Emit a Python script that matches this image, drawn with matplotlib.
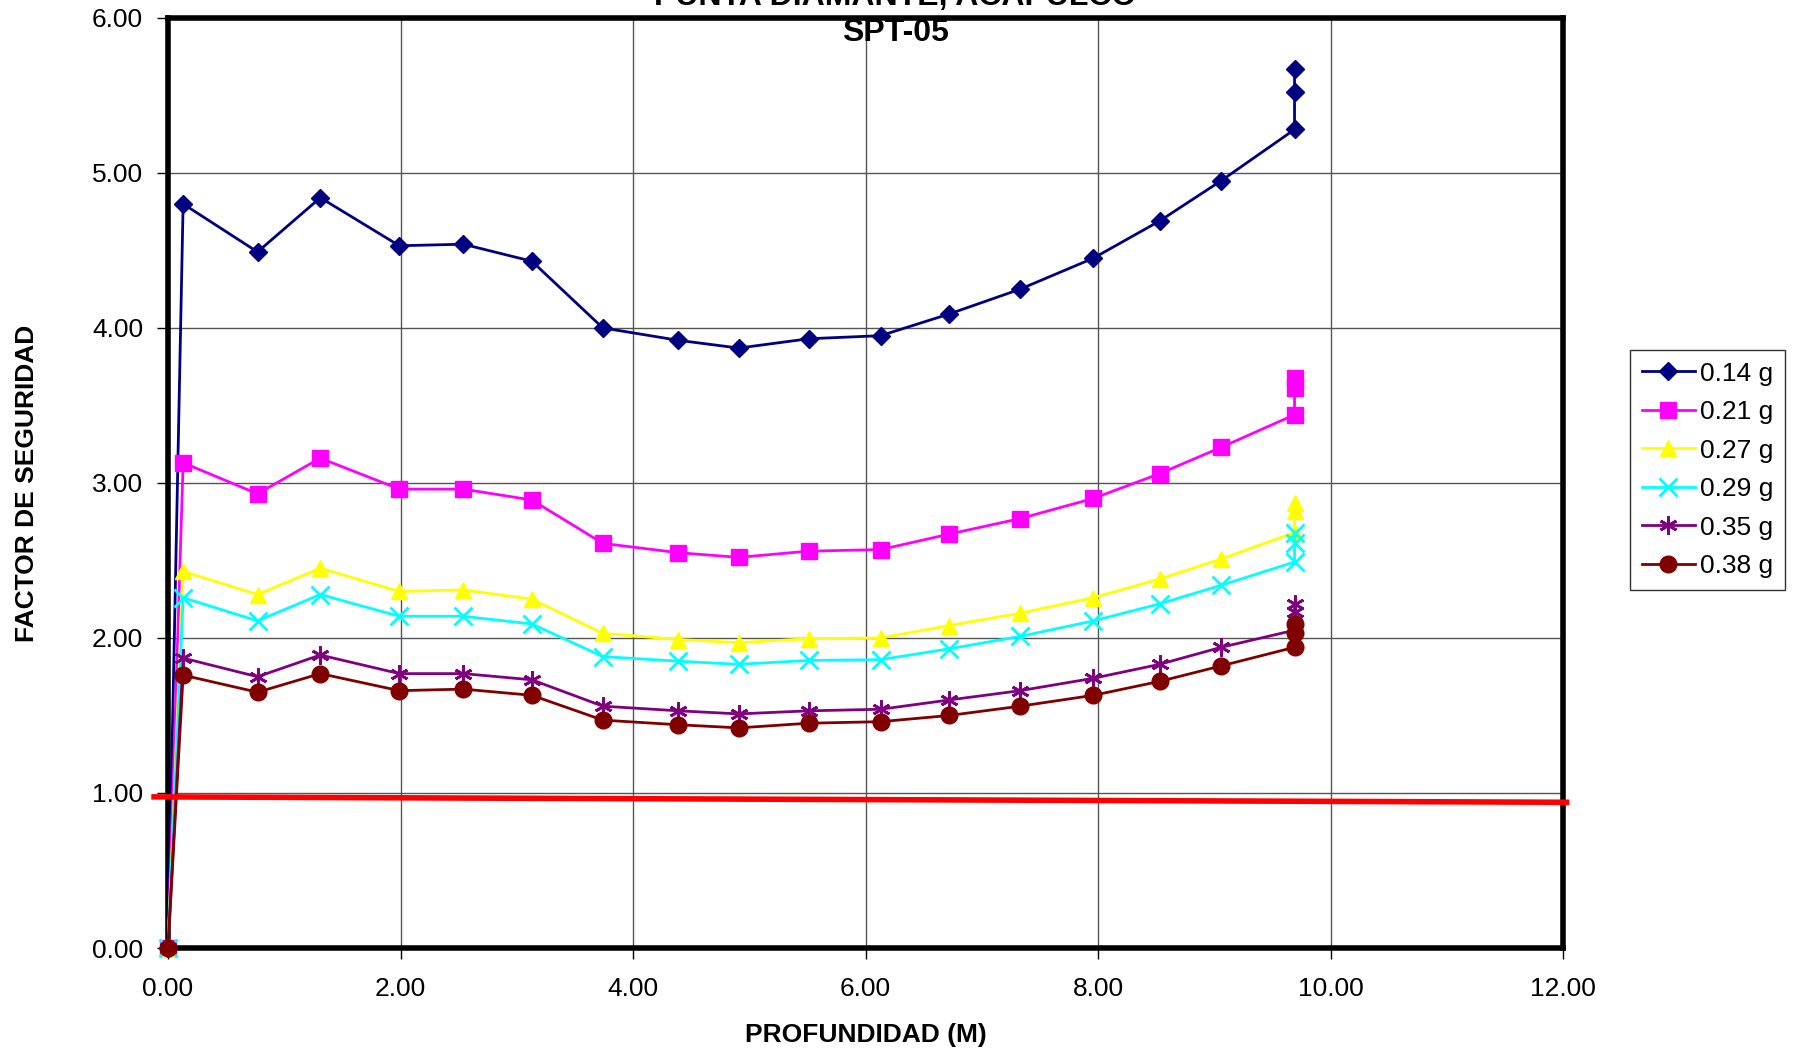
import matplotlib
matplotlib.use("Agg")
import matplotlib.pyplot as plt
from matplotlib.ticker import FormatStrFormatter

plt.rcParams['font.family'] = ['Liberation Sans', 'DejaVu Sans']

# Depths (m)
depth = [0.0, 0.13, 0.77, 1.31, 1.99, 2.54, 3.13, 3.74, 4.39, 4.91, 5.51, 6.13,
         6.72, 7.33, 7.96, 8.53, 9.06, 9.69, 9.69, 9.69]

series_labels = ["0.14 g", "0.21 g", "0.27 g", "0.29 g", "0.35 g", "0.38 g"]
fs_014 = [0.0, 4.80, 4.49, 4.84, 4.53, 4.54, 4.43, 4.00, 3.92, 3.87, 3.93, 3.95,
          4.09, 4.25, 4.45, 4.69, 4.95, 5.28, 5.52, 5.67]
fs_021 = [0.0, 3.13, 2.93, 3.16, 2.96, 2.96, 2.89, 2.61, 2.55, 2.52, 2.56, 2.57,
          2.67, 2.77, 2.90, 3.06, 3.23, 3.44, 3.61, 3.68]
fs_027 = [0.0, 2.43, 2.28, 2.45, 2.30, 2.31, 2.25, 2.03, 1.99, 1.97, 1.995, 2.00,
          2.08, 2.16, 2.26, 2.38, 2.51, 2.68, 2.82, 2.87]
fs_029 = [0.0, 2.26, 2.11, 2.28, 2.14, 2.14, 2.09, 1.88, 1.85, 1.83, 1.855, 1.86,
          1.93, 2.01, 2.11, 2.22, 2.34, 2.49, 2.61, 2.68]
fs_035 = [0.0, 1.87, 1.75, 1.89, 1.77, 1.77, 1.73, 1.56, 1.53, 1.51, 1.53, 1.54,
          1.60, 1.66, 1.74, 1.83, 1.94, 2.05, 2.17, 2.22]
fs_038 = [0.0, 1.76, 1.65, 1.77, 1.66, 1.67, 1.63, 1.47, 1.44, 1.42, 1.45, 1.46,
          1.50, 1.56, 1.63, 1.72, 1.82, 1.94, 2.03, 2.09]

# Reference line FS = 1
ref_x = [-0.12, 12.03]
ref_y = [0.975, 0.94]

x_ticks = [0, 2, 4, 6, 8, 10, 12]
y_ticks = [0, 1, 2, 3, 4, 5, 6]

fig = plt.figure(figsize=(17.95, 10.51), dpi=100)
ax = fig.add_axes([0.0936, 0.098, 0.7772, 0.885])

styles = [
    dict(color="#000080", marker="D", ms=9),
    dict(color="#FF00FF", marker="s", ms=12),
    dict(color="#FFFF00", marker="^", ms=12),
    dict(color="#00FFFF", marker="x", ms=13, mew=2),
    dict(color="#800080", marker=(6, 2, 0), ms=13, mew=2),
    dict(color="#800000", marker="o", ms=12),
]
all_series = [fs_014, fs_021, fs_027, fs_029, fs_035, fs_038]
for vals, lab, st in zip(all_series, series_labels, styles):
    ax.plot(depth, vals, label=lab, lw=2, clip_on=False, zorder=3, **st)

ax.plot(ref_x, ref_y, color="#FF0000", lw=4, clip_on=False, zorder=4)

ax.set_xlim(0, 12)
ax.set_ylim(0, 6)
ax.set_xticks(x_ticks)
ax.set_yticks(y_ticks)
ax.xaxis.set_major_formatter(FormatStrFormatter("%.2f"))
ax.yaxis.set_major_formatter(FormatStrFormatter("%.2f"))
ax.tick_params(axis="both", direction="out", length=8, width=1, labelsize=19)
ax.tick_params(axis="x", pad=13)
ax.tick_params(axis="y", pad=10)
ax.grid(True, color="#555555", lw=1, zorder=1)
ax.set_axisbelow(True)
for sp in ax.spines.values():
    sp.set_linewidth(4)
    sp.set_color("black")

ax.set_xlabel("PROFUNDIDAD (M)", fontsize=19, fontweight="bold", labelpad=16)
ax.set_ylabel("FACTOR DE SEGURIDAD", fontsize=19, fontweight="bold", labelpad=38)

fig.text(0.4988, 1.003, "PUNTA DIAMANTE, ACAPULCO", ha="center", va="center",
         fontsize=23, fontweight="bold")
fig.text(0.4988, 0.9686, "SPT-05", ha="center", va="center",
         fontsize=23, fontweight="bold")

leg = ax.legend(loc="center left", bbox_to_anchor=(1.048, 0.514), fontsize=19,
                frameon=True, fancybox=False, edgecolor="black",
                handlelength=2.0, handletextpad=0.2, labelspacing=0.55,
                borderpad=0.45, borderaxespad=0)
leg.get_frame().set_linewidth(1)

fig.savefig("out.png", dpi=100)
